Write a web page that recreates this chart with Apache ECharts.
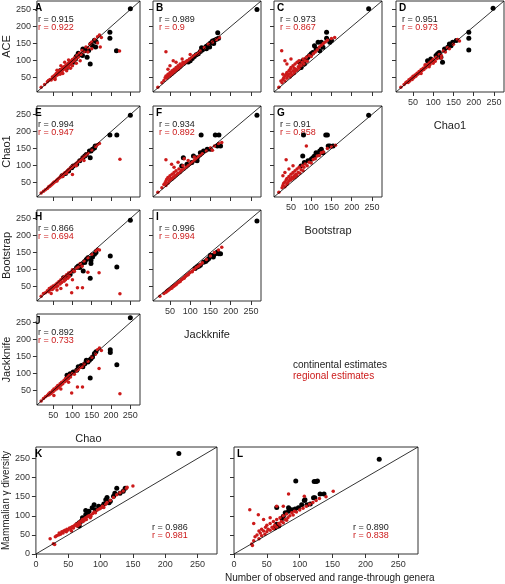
<!DOCTYPE html>
<html><head><meta charset="utf-8">
<script src="https://cdn.jsdelivr.net/npm/echarts@6/dist/echarts.min.js"></script>
<style>html,body{margin:0;padding:0;background:#fff}#c{width:505px;height:584px}</style>
</head><body><div id="c"></div>
<script>
// ---------- tick labels ----------
const smallTicks = [50, 100, 150, 200, 250];
const bigTicks = [0, 50, 100, 150, 200, 250];
const colNames = ['Chao', 'Jackknife', 'Bootstrap', 'Chao1'];
const rowNames = ['ACE', 'Chao1', 'Bootstrap', 'Jackknife'];
const legendLabels = ['continental estimates', 'regional estimates'];
const bottomXName = 'Number of observed and range-through genera';
const bottomYName = 'Mammalian \u03b3 diversity';

// ---------- data: [x, y] ----------
const A_cont = [[250,252],[197,183],[197,166],[214,129],[146,90],[115,122],[120,118],[127,134],[136,135],[148,149],[157,160],[161,156],[152,144],[132,129],[126,115],[110,112],[102,95],[94,92],[86,80],[69,71],[138,110],[160,140],[108,105],[142,130]];
const A_reg = [[19,22],[28,30],[35,38],[38,42],[42,45],[45,43],[48,52],[50,48],[52,55],[55,50],[55,58],[58,62],[60,57],[62,65],[63,60],[65,70],[67,64],[68,72],[70,66],[72,75],[73,70],[75,80],[76,73],[78,82],[80,76],[82,85],[84,80],[85,88],[88,84],[90,92],[92,88],[95,98],[97,93],[100,103],[102,98],[105,108],[108,104],[112,115],[115,110],[118,122],[122,118],[125,130],[130,126],[135,140],[140,138],[145,148],[150,155],[158,162],[165,170],[170,175],[175,168],[165,152],[150,135],[140,125],[120,100],[110,92],[100,85],[95,78],[85,70],[75,62],[60,72],[70,85],[80,95],[90,102],[222,128],[172,140],[68,60],[55,45],[90,80]];

const B_cont = [[265,250],[168,182],[170,166],[165,163],[160,160],[155,158],[150,152],[145,147],[140,142],[135,137],[130,131],[125,127],[120,120],[115,117],[110,112],[105,106],[100,100],[95,96],[128,138],[148,140],[158,150],[140,135]];
const B_reg = [[20,22],[30,35],[35,42],[38,50],[40,55],[42,48],[45,60],[45,52],[48,58],[50,65],[50,55],[52,62],[55,70],[55,60],[58,66],[60,75],[60,65],[62,70],[65,80],[65,70],[68,75],[70,85],[70,74],[72,78],[75,90],[75,80],[78,84],[80,88],[82,95],[85,90],[88,96],[90,95],[92,100],[95,100],[98,105],[100,104],[105,110],[110,115],[115,118],[120,122],[125,128],[135,138],[145,148],[155,155],[165,162],[172,168],[40,126],[58,100],[50,85],[45,75],[65,95],[80,105],[100,118]];

const C_cont = [[242,252],[138,183],[138,166],[125,154],[150,159],[146,154],[129,139],[112,134],[104,124],[96,115],[88,105],[79,100],[71,95],[108,144],[117,154],[121,129],[100,120],[92,110],[83,90],[75,80]];
const C_reg = [[20,22],[28,35],[30,45],[32,50],[35,40],[35,55],[38,60],[40,48],[40,65],[42,55],[45,70],[45,60],[48,52],[48,75],[50,65],[50,80],[52,58],[55,70],[55,85],[58,62],[58,78],[60,90],[60,68],[62,75],[65,95],[65,72],[68,82],[70,100],[70,78],[72,88],[75,85],[78,95],[80,105],[82,90],[85,100],[88,110],[90,98],[95,115],[100,112],[105,120],[110,125],[115,132],[120,140],[125,145],[130,150],[135,155],[140,160],[150,165],[158,168],[27,129],[35,100],[40,90],[50,105],[30,60],[25,40]];

const D_cont = [[248,254],[188,183],[188,166],[188,131],[123,95],[157,159],[148,154],[144,144],[136,139],[128,134],[115,124],[111,120],[119,110],[107,115],[140,149],[94,105],[86,100]];
const D_reg = [[20,22],[28,30],[32,35],[35,38],[38,36],[40,44],[42,40],[45,48],[48,45],[50,54],[52,50],[55,58],[57,54],[60,63],[62,60],[65,68],[67,64],[70,73],[72,70],[75,78],[77,74],[80,84],[82,79],[85,88],[87,84],[90,93],[92,89],[95,98],[98,95],[100,104],[103,100],[107,110],[110,106],[115,118],[120,115],[125,128],[130,125],[135,138],[140,135],[150,148],[160,162],[165,158],[100,92],[90,82],[80,88],[70,62],[105,98],[120,108]];

const E_cont = [[250,248],[197,190],[215,190],[146,123],[159,158],[152,148],[148,143],[136,133],[132,128],[127,123],[119,114],[111,104],[102,99],[98,94],[90,84],[82,77],[73,70],[144,143],[157,152]];
const E_reg = [[19,20],[25,25],[30,29],[35,33],[38,37],[40,39],[42,40],[45,43],[48,46],[50,48],[52,51],[55,53],[58,56],[60,58],[62,60],[65,63],[68,66],[70,68],[72,70],[75,73],[78,76],[80,78],[82,80],[85,83],[88,86],[90,88],[92,90],[95,93],[98,95],[100,98],[105,102],[110,107],[115,112],[120,116],[125,122],[130,127],[135,131],[140,136],[150,146],[160,156],[165,162],[170,165],[223,119],[100,74],[85,78],[110,100],[130,115],[60,55],[75,68]];

const F_cont = [[265,248],[127,190],[162,190],[171,190],[167,158],[175,158],[83,123],[108,128],[117,123],[125,138],[133,143],[142,148],[150,148],[117,114],[104,109],[92,104],[79,99]];
const F_reg = [[20,22],[30,35],[35,45],[38,50],[40,42],[40,55],[42,60],[45,48],[45,65],[48,55],[50,70],[50,58],[52,62],[55,75],[55,60],[58,65],[60,80],[60,65],[62,70],[65,85],[65,70],[68,75],[70,78],[72,90],[75,80],[78,85],[80,88],[82,100],[85,90],[90,95],[95,100],[100,105],[105,110],[110,115],[115,120],[120,125],[125,130],[130,135],[140,143],[150,152],[160,158],[170,165],[178,168],[40,117],[54,104],[60,95],[70,110],[85,120],[95,115],[110,125],[155,145]];

const G_cont = [[242,248],[81,190],[136,190],[140,190],[142,158],[146,158],[154,158],[79,128],[108,128],[112,138],[121,143],[125,148],[129,138],[100,119],[92,114],[83,109],[75,99],[104,123],[117,133]];
const G_reg = [[20,22],[28,35],[30,42],[32,48],[35,38],[35,52],[38,58],[40,45],[40,62],[42,50],[45,68],[45,55],[48,60],[50,75],[50,58],[52,65],[55,80],[55,62],[58,70],[60,85],[60,65],[62,75],[65,90],[65,70],[68,80],[70,95],[72,78],[75,88],[78,100],[80,85],[82,95],[85,105],[90,100],[95,110],[100,108],[105,118],[110,120],[115,128],[120,130],[125,138],[130,140],[140,150],[150,155],[160,160],[38,117],[88,158],[45,90],[55,100],[30,70],[35,80]];

const H_cont = [[250,245],[198,140],[215,108],[146,75],[128,96],[157,145],[161,150],[152,137],[148,127],[140,135],[136,130],[132,121],[123,116],[115,111],[111,106],[102,96],[94,86],[86,81],[77,76],[119,106],[148,118]];
const H_reg = [[19,22],[25,30],[30,32],[35,38],[38,35],[40,45],[42,40],[45,48],[48,42],[50,52],[52,46],[55,55],[58,50],[60,60],[62,52],[65,65],[68,58],[70,70],[72,62],[75,75],[78,66],[80,80],[82,70],[85,85],[88,75],[90,90],[92,80],[95,92],[100,100],[105,95],[110,105],[115,108],[120,118],[125,110],[130,125],[140,135],[150,145],[160,155],[165,160],[170,158],[223,29],[169,91],[98,32],[113,47],[126,47],[60,40],[70,45],[45,30],[140,92],[85,55],[100,70]];

const I_cont = [[265,243],[146,133],[150,142],[158,142],[162,147],[167,152],[171,147],[175,147],[157,137],[142,128],[133,122],[125,113],[117,108],[112,103],[121,110],[138,124]];
const I_reg = [[25,22],[35,30],[40,34],[42,37],[45,38],[48,42],[50,44],[52,45],[55,49],[58,51],[60,53],[62,55],[65,58],[68,60],[70,63],[72,64],[75,67],[78,70],[80,72],[82,74],[85,77],[88,80],[90,82],[92,84],[95,87],[98,90],[100,92],[105,96],[110,101],[115,106],[120,110],[125,115],[130,120],[140,130],[150,140],[160,150],[170,158],[178,166],[55,46],[65,56],[75,65],[85,75],[95,85],[105,94],[45,40],[60,52]];

const J_cont = [[250,264],[198,170],[198,162],[215,126],[146,87],[161,164],[157,159],[152,149],[144,139],[136,139],[132,129],[123,124],[115,120],[111,110],[102,105],[94,100],[86,95],[127,120],[148,144],[140,134]];
const J_reg = [[19,20],[25,27],[30,32],[35,36],[38,40],[40,38],[42,45],[45,42],[48,50],[50,47],[52,55],[55,52],[58,60],[60,56],[62,65],[65,60],[68,70],[70,66],[72,75],[75,70],[78,80],[80,76],[82,86],[85,80],[88,90],[90,86],[92,95],[95,90],[100,100],[105,98],[110,108],[115,112],[120,118],[125,120],[130,128],[140,136],[150,148],[160,158],[165,170],[170,175],[175,168],[223,41],[169,115],[126,61],[113,61],[98,43],[52,36],[70,55],[90,75]];

const K_cont = [[221,263],[138,172],[135,164],[130,159],[125,172],[122,159],[120,151],[110,148],[115,138],[113,134],[105,131],[103,125],[97,125],[92,116],[87,121],[82,112],[80,108],[77,103],[72,95],[70,86],[67,82],[67,73],[64,78],[77,114],[90,129],[108,142]];
const K_reg = [[22,40],[27,27],[29,25],[30,45],[32,48],[35,50],[36,55],[38,52],[40,58],[42,55],[43,60],[45,62],[47,58],[48,65],[50,63],[52,68],[54,66],[55,70],[57,72],[58,68],[60,75],[62,78],[63,73],[65,80],[67,84],[68,78],[70,86],[72,90],[73,85],[75,92],[77,95],[78,90],[80,98],[82,100],[84,95],[85,102],[88,106],[90,110],[92,108],[95,115],[98,118],[100,120],[103,125],[105,122],[108,130],[110,135],[115,140],[120,148],[125,155],[130,160],[135,165],[140,172],[141,175],[150,178],[55,60],[65,74],[75,88],[85,98]];

const L_cont = [[221,248],[94,191],[122,190],[125,190],[127,191],[131,157],[137,157],[121,147],[123,147],[116,131],[111,129],[107,140],[108,142],[103,129],[98,121],[93,118],[88,116],[83,112],[78,108],[83,121],[65,122],[75,99],[65,78],[68,73],[62,69],[73,93]];
const L_reg = [[24,116],[28,22],[27,26],[30,35],[32,45],[35,50],[38,40],[38,60],[40,55],[42,48],[42,65],[45,60],[47,52],[48,70],[50,58],[50,75],[52,65],[55,62],[55,80],[58,70],[60,66],[60,85],[62,75],[65,70],[65,90],[68,80],[70,76],[70,95],[72,85],[75,82],[75,100],[78,90],[80,88],[80,105],[82,95],[85,100],[88,108],[90,102],[92,112],[95,110],[100,115],[105,120],[110,125],[115,130],[120,135],[125,140],[130,145],[140,150],[151,164],[83,157],[107,151],[37,103],[45,90],[55,95],[30,80],[65,125],[75,125]];

const diagSmall = [[8, 8], [275, 275]];
const diagBig = [[0, 0], [280, 280]];

const rCont = {A:'0.915',B:'0.989',C:'0.973',D:'0.951',E:'0.994',F:'0.934',G:'0.91',H:'0.866',I:'0.996',J:'0.892',K:'0.986',L:'0.890'};
const rReg  = {A:'0.922',B:'0.9',C:'0.867',D:'0.973',E:'0.947',F:'0.892',G:'0.858',H:'0.694',I:'0.994',J:'0.733',K:'0.981',L:'0.838'};

// ---------- layout ----------
const FONT = '"Liberation Sans", Arial, Helvetica, sans-serif';
const RED = '#cc1a1a';
const colLeft = [32, 153, 274, 396];
const rowTop = [1, 106, 210, 314];
const PW = 108, PH = 91;

const panels = [
  {id:'A', row:0, col:0, c:A_cont, r:A_reg},
  {id:'B', row:0, col:1, c:B_cont, r:B_reg},
  {id:'C', row:0, col:2, c:C_cont, r:C_reg},
  {id:'D', row:0, col:3, c:D_cont, r:D_reg},
  {id:'E', row:1, col:0, c:E_cont, r:E_reg},
  {id:'F', row:1, col:1, c:F_cont, r:F_reg},
  {id:'G', row:1, col:2, c:G_cont, r:G_reg},
  {id:'H', row:2, col:0, c:H_cont, r:H_reg},
  {id:'I', row:2, col:1, c:I_cont, r:I_reg},
  {id:'J', row:3, col:0, c:J_cont, r:J_reg}
];
const bottomOfCol = [3, 2, 1, 0];

const grids = [], xAxes = [], yAxes = [], series = [], graphics = [];

function axisCommon(ticks, showLabel) {
  return {
    type: 'value', splitLine: {show: false},
    axisLine: {show: false},
    axisTick: {show: true, length: 4, customValues: ticks, lineStyle: {color: '#333', width: 1}},
    axisLabel: {show: showLabel, customValues: ticks, fontSize: 9, color: '#333', fontFamily: FONT, margin: 6}
  };
}

function addPanel(p, left, top, w, h, min, max, ticks, showX, showY, xName, yName, diag, rPos) {
  const gi = grids.length;
  grids.push({left: left, top: top, width: w, height: h, show: true, borderColor: '#333', borderWidth: 1, backgroundColor: '#fff'});
  const xa = axisCommon(ticks, showX);
  Object.assign(xa, {gridIndex: gi, min: min, max: max});
  if (xName) Object.assign(xa, {name: xName, nameLocation: 'middle', nameGap: 28, nameTextStyle: {fontSize: 11, color: '#222', fontFamily: FONT}});
  const ya = axisCommon(ticks, showY);
  Object.assign(ya, {gridIndex: gi, min: min, max: max});
  if (yName) Object.assign(ya, {name: yName, nameLocation: 'middle', nameGap: yName.length > 12 ? 22 : 21, nameTextStyle: {fontSize: yName.length > 12 ? 10 : 11, color: '#222', fontFamily: FONT}});
  xAxes.push(xa); yAxes.push(ya);
  series.push({type: 'scatter', xAxisIndex: gi, yAxisIndex: gi, data: p.c, symbolSize: 5, itemStyle: {color: '#000', opacity: 1}, silent: true});
  series.push({type: 'scatter', xAxisIndex: gi, yAxisIndex: gi, data: p.r, symbolSize: 3.5, itemStyle: {color: RED, opacity: 1}, silent: true});
  series.push({type: 'line', xAxisIndex: gi, yAxisIndex: gi, data: diag, symbol: 'none', lineStyle: {color: '#000', width: 0.8}, silent: true});
  graphics.push({type: 'text', left: left + 3, top: top + 2, style: {text: p.id, font: 'bold 10px ' + FONT, fill: '#000'}});
  graphics.push({type: 'text', left: rPos[0], top: rPos[1], style: {text: 'r = ' + rCont[p.id], font: '9px ' + FONT, fill: '#222'}});
  graphics.push({type: 'text', left: rPos[0], top: rPos[1] + 8.5, style: {text: 'r = ' + rReg[p.id], font: '9px ' + FONT, fill: RED}});
}

panels.forEach(p => {
  const left = colLeft[p.col], top = rowTop[p.row];
  const showX = bottomOfCol[p.col] === p.row;
  const showY = p.col === 0;
  addPanel(p, left, top, PW, PH, 8, 275, smallTicks, showX, showY,
    showX ? colNames[p.col] : null, showY ? rowNames[p.row] : null, diagSmall, [left + 6, top + 14]);
});

addPanel({id:'K', c:K_cont, r:K_reg}, 32, 447, 185, 107, 0, 280, bigTicks, true, true, null, bottomYName, diagBig, [152, 523]);
addPanel({id:'L', c:L_cont, r:L_reg}, 234, 447, 184, 107, 0, 280, bigTicks, true, false, null, null, diagBig, [353, 523]);

graphics.push({type: 'text', left: 293, top: 360, style: {text: legendLabels[0], font: '10px ' + FONT, fill: '#222'}});
graphics.push({type: 'text', left: 293, top: 371, style: {text: legendLabels[1], font: '10px ' + FONT, fill: RED}});
graphics.push({type: 'text', left: 225, top: 573, style: {text: bottomXName, font: '10px ' + FONT, fill: '#222', textAlign: 'center'}});

const chart = echarts.init(document.getElementById('c'));
chart.setOption({
  animation: false,
  backgroundColor: '#fff',
  grid: grids, xAxis: xAxes, yAxis: yAxes, series: series, graphic: graphics
});
</script></body></html>
